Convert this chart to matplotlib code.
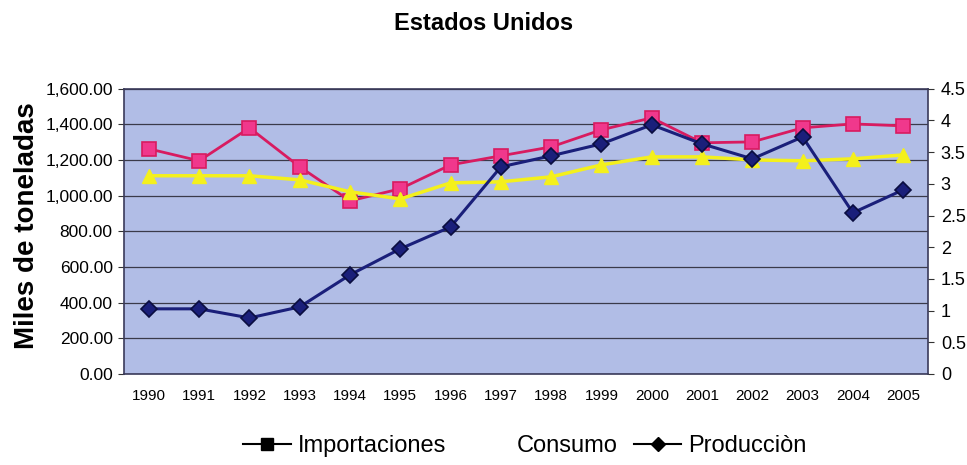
import matplotlib
matplotlib.use("Agg")
import matplotlib.pyplot as plt
from matplotlib.lines import Line2D
import numpy as np

plt.rcParams["font.family"] = ["Liberation Sans", "DejaVu Sans"]

years = ["1990", "1991", "1992", "1993", "1994", "1995", "1996", "1997",
         "1998", "1999", "2000", "2001", "2002", "2003", "2004", "2005"]
importaciones = [1263, 1196, 1381, 1162, 971, 1039, 1173, 1224,
                 1274, 1370, 1437, 1297, 1302, 1381, 1403, 1392]
consumo = [1112, 1112, 1112, 1089, 1022, 982, 1072, 1078,
           1106, 1173, 1218, 1218, 1201, 1196, 1207, 1229]
produccion = [365, 365, 314, 376, 556, 702, 825, 1162,
              1224, 1291, 1398, 1291, 1207, 1330, 904, 1033]

BG = "#b1bde6"
PINK_LINE = "#d81b60"
PINK_FILL = "#f0388c"
NAVY = "#1a1f7a"
YELLOW = "#f4f01c"

fig = plt.figure(figsize=(9.67, 4.65), dpi=100)
ax = fig.add_axes([0.128, 0.196, 0.832, 0.613])
ax.set_facecolor(BG)

x = np.arange(len(years))
ax.plot(x, importaciones, color=PINK_LINE, lw=2, marker="s", ms=10,
        mfc=PINK_FILL, mec=PINK_LINE, mew=1.2, zorder=3)
ax.plot(x, consumo, color=YELLOW, lw=2.5, marker="^", ms=10,
        mfc=YELLOW, mec=YELLOW, zorder=3)
ax.plot(x, produccion, color=NAVY, lw=2.2, marker="D", ms=8,
        mfc=NAVY, mec="#0a0d40", mew=1.2, zorder=4)

ax.set_xlim(-0.5, len(years) - 0.5)
ax.set_ylim(0, 1600)
ax.set_yticks(np.arange(0, 1601, 200))
ax.set_yticklabels([f"{v:,.2f}" for v in range(0, 1601, 200)], fontsize=12.5)
ax.set_xticks(x)
ax.set_xticklabels(years, fontsize=11)
ax.tick_params(axis="x", length=0, pad=11)
ax.tick_params(axis="y", length=4, direction="out", color="#333333", pad=4)
ax.yaxis.grid(True, color="#3a3a4a", lw=0.9)
ax.set_axisbelow(True)
for s in ax.spines.values():
    s.set_color("#3a3a5a")
    s.set_linewidth(1.2)

ax2 = ax.twinx()
ax2.set_ylim(0, 4.5)
ax2.set_yticks(np.arange(0, 4.51, 0.5))
ax2.set_yticklabels(["0", "0.5", "1", "1.5", "2", "2.5", "3", "3.5", "4", "4.5"],
                    fontsize=13)
ax2.tick_params(axis="y", length=4, direction="out", color="#333333", pad=5)
for s in ax2.spines.values():
    s.set_visible(False)

ax.set_ylabel("Miles de toneladas", fontsize=20, fontweight="bold")
ax.yaxis.set_label_coords(-0.104, 0.52)
fig.text(0.5, 0.95, "Estados Unidos", ha="center", va="center",
         fontsize=17, fontweight="bold")

handles = [
    Line2D([], [], color="black", lw=1.5, marker="s", ms=8),
    Line2D([], [], color="none", lw=0),
    Line2D([], [], color="black", lw=1.5, marker="D", ms=7),
]
fig.legend(handles, ["Importaciones", "Consumo", "Producciòn"],
           loc="center", bbox_to_anchor=(0.543, 0.04), ncol=3, frameon=False,
           fontsize=17, handlelength=2.0, handletextpad=0.3, columnspacing=0.7)

fig.savefig("out.png", dpi=100)
